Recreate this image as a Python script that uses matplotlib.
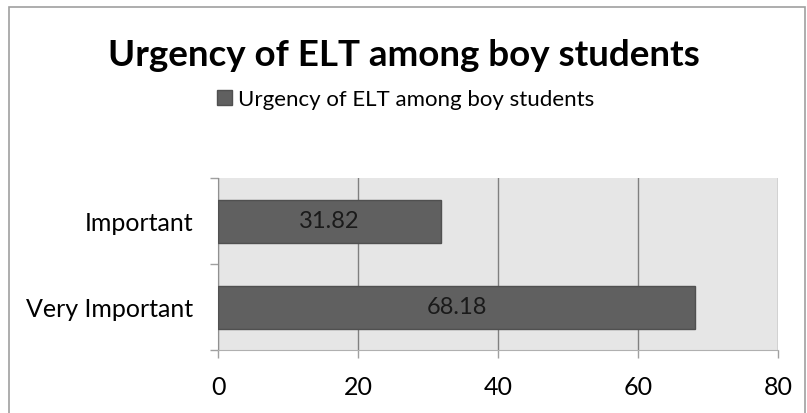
import matplotlib
matplotlib.use("Agg")
from matplotlib import pyplot as plt
from matplotlib.patches import Rectangle

categories = ["Very Important", "Important"]
values = [68.18, 31.82]
series_name = "Urgency of ELT among boy students"
xticks = [0, 20, 40, 60, 80]

plt.rcParams['font.family'] = ['Lato', 'DejaVu Sans']

fig = plt.figure(figsize=(8.07, 4.14), dpi=100)
ax = fig.add_axes([218 / 807, 1 - 351 / 414, 560 / 807, 172 / 414])
ax.set_facecolor('#e6e6e6')

bars = ax.barh(categories, values, height=0.5, color='#606060',
               edgecolor='#505050', linewidth=1, label=series_name, zorder=3)
for b, v in zip(bars, values):
    ax.text(b.get_width() / 2, b.get_y() + b.get_height() / 2, f"{v:.2f}",
            ha='center', va='center', fontsize=17, color='#1a1a1a', zorder=4)

ax.set_xlim(0, 80)
ax.set_ylim(-0.5, 1.5)
ax.set_xticks(xticks)
ax.xaxis.grid(True, color='#808080', linewidth=1, zorder=1)
ax.tick_params(axis='x', length=6, color='#a0a0a0', width=1, labelsize=18, pad=12)
ax.set_yticks([-0.5, 0.5, 1.5], minor=False)
ax.set_yticks([0, 1], minor=True)
ax.set_yticklabels([], minor=False)
ax.set_yticklabels(categories, minor=True)
ax.tick_params(axis='y', which='major', length=6, color='#a0a0a0', width=1)
ax.tick_params(axis='y', which='minor', length=0, labelsize=18, pad=18)
for s in ['top', 'right']:
    ax.spines[s].set_visible(False)
ax.spines['left'].set_color('#909090')
ax.spines['bottom'].set_color('#b0b0b0')

fig.text(0.5, 1 - 55 / 414, "Urgency of ELT among boy students",
         ha='center', va='center', fontsize=26.5, fontweight='bold')
fig.legend(handles=[bars], labels=[series_name], loc='center',
           bbox_to_anchor=(406 / 807, 1 - 100 / 414), frameon=False,
           fontsize=16, handlelength=0.65, handleheight=0.65, handletextpad=0.3)

fig.patches.append(Rectangle((9 / 807, -0.01), 796 / 807, 1 - 8 / 414 + 0.01,
                             transform=fig.transFigure, fill=False,
                             edgecolor='#a0a0a0', linewidth=1.2))

fig.savefig("out.png", dpi=100)
